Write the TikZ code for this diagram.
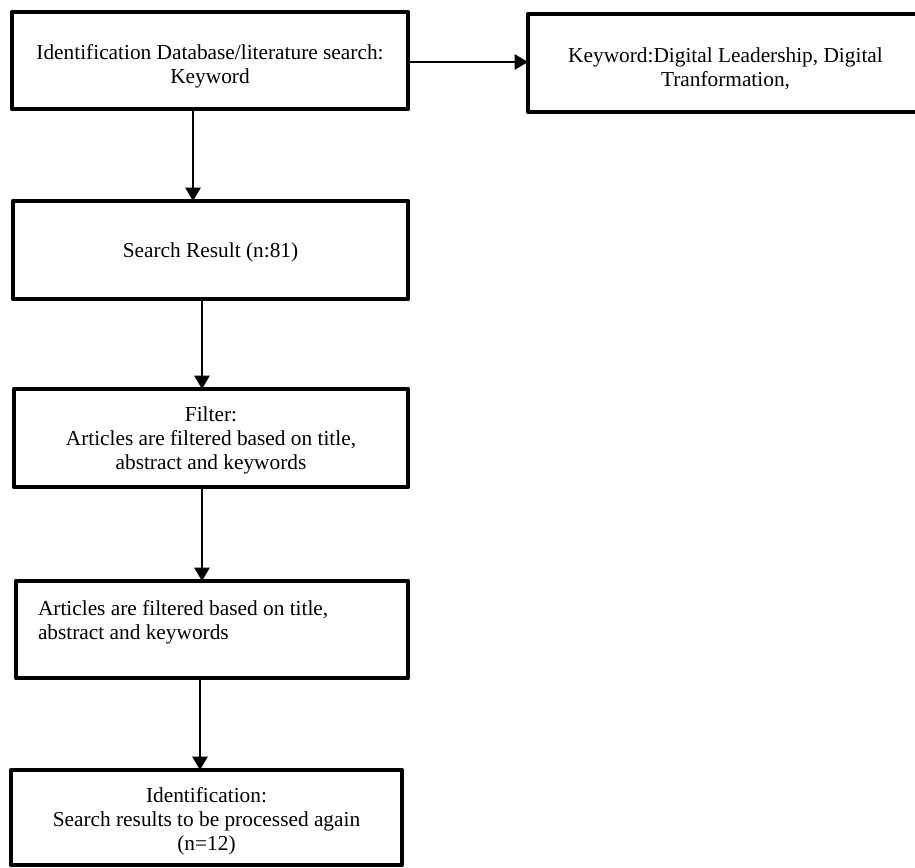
\documentclass[tikz,border=0pt]{standalone}
\usepackage{fontspec}
\setmainfont{Liberation Serif}
\usetikzlibrary{arrows.meta}
\begin{document}
\begin{tikzpicture}[x=0.75pt,y=-0.75pt,
  boxst/.style={draw=black,line width=3.6pt,line join=round,inner sep=0pt,outer sep=0pt},
  txt/.style={inner sep=0pt,outer sep=0pt,align=center,font=\fontsize{16}{18}\selectfont},
  arr/.style={line width=1.1pt,-{Triangle[length=10pt,width=11.5pt]}}]
\useasboundingbox (0,0) rectangle (915,868);
\node[boxst,minimum width=297pt,minimum height=72.75pt] (b1) at (210,60.5) {};
\node[txt] (t1) at (210,66) {Identification Database/literature search:\\Keyword};
\node[boxst,minimum width=296.25pt,minimum height=73.5pt] (b2) at (725.5,63) {};
\node[txt] (t2) at (725.5,68.5) {Keyword:Digital Leadership, Digital\\Tranformation,};
\node[boxst,minimum width=296.25pt,minimum height=73.5pt] (b3) at (210.5,250) {};
\node[txt] (t3) at (210.5,252) {Search Result (n:81)};
\node[boxst,minimum width=295.5pt,minimum height=73.5pt] (b4) at (211,438) {};
\node[txt] (t4) at (211,440.5) {Filter:\\Articles are filtered based on title,\\abstract and keywords};
\node[boxst,minimum width=294pt,minimum height=72.75pt] (b5) at (212,629.5) {};
\node[txt,anchor=west,align=left] (t5) at (38,622)
  {Articles are filtered based on title,\\abstract and keywords};
\node[boxst,minimum width=293.25pt,minimum height=71.25pt] (b6) at (206.5,817.5) {};
\node[txt] (t6) at (206.5,821.5) {Identification:\\Search results to be processed again\\(n=12)};
\coordinate (xa) at (193,0);
\coordinate (xb) at (202,0);
\coordinate (xc) at (200,0);
\draw[arr] (b1.east |- 0,62) -- (b2.west |- 0,62);
\draw[arr] (b1.south -| xa) -- (b3.north -| xa);
\draw[arr] (b3.south -| xb) -- (b4.north -| xb);
\draw[arr] (b4.south -| xb) -- (b5.north -| xb);
\draw[arr] (b5.south -| xc) -- (b6.north -| xc);
\end{tikzpicture}
\end{document}
